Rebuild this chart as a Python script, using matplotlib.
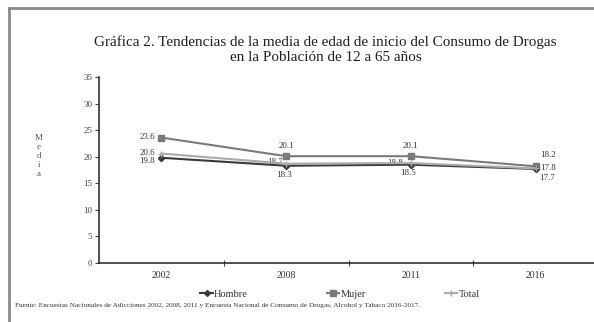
import matplotlib
matplotlib.use("Agg")
import matplotlib.pyplot as plt
from matplotlib.lines import Line2D

years = ["2002", "2008", "2011", "2016"]
hombre = [19.8, 18.3, 18.5, 17.7]
mujer = [23.6, 20.1, 20.1, 18.2]
total = [20.6, 18.7, 18.8, 17.8]
yticks = [0, 5, 10, 15, 20, 25, 30, 35]

plt.rcParams['font.family'] = ['Liberation Serif', 'DejaVu Serif']

W, H = 594, 322
fig = plt.figure(figsize=(W / 100, H / 100), dpi=100)
fig.patch.set_facecolor('white')

# outer frame (top and left edges visible)
fig.add_artist(Line2D([9 / W, 9 / W], [0, 1 - 8 / H], transform=fig.transFigure,
                      color='#8a8a8a', lw=2))
fig.add_artist(Line2D([9 / W, 1], [1 - 8 / H, 1 - 8 / H], transform=fig.transFigure,
                      color='#8a8a8a', lw=2))

ax_l, ax_r, ax_b, ax_t = 99, 598, 263, 77
ax = fig.add_axes([ax_l / W, 1 - ax_b / H, (ax_r - ax_l) / W, (ax_b - ax_t) / H])
ax.set_xlim(-0.5, len(years) - 0.5)
ax.set_ylim(0, 35)

x = list(range(len(years)))
c_h, c_m, c_t = '#3a3a3a', '#7a7a7a', '#ababab'
ax.plot(x, hombre, color=c_h, lw=1.5, marker='D', ms=3.2, zorder=4)
ax.plot(x, mujer, color=c_m, lw=1.5, marker='s', ms=4.5, zorder=3)
ax.plot(x, total, color=c_t, lw=1.5, marker='+', ms=4, mew=1, zorder=5)

lab_kw = dict(textcoords='offset pixels', fontsize=6.5, color='#333333',
              ha='center', va='center')
offs_m = [(-14, 1), (0, 10), (0, 10), (12, 11)]
offs_t = [(-14, 1), (-11, 2), (-16, 0), (12, 0)]
offs_h = [(-14, -3), (-2, -9), (-3, -8), (11, -9)]
for i in x:
    ax.annotate(f"{mujer[i]:.1f}", (i, mujer[i]), xytext=offs_m[i], **lab_kw)
    ax.annotate(f"{total[i]:.1f}", (i, total[i]), xytext=offs_t[i], **lab_kw)
    ax.annotate(f"{hombre[i]:.1f}", (i, hombre[i]), xytext=offs_h[i], **lab_kw)

for s in ['top', 'right']:
    ax.spines[s].set_visible(False)
ax.spines['left'].set_color('#222222')
ax.spines['bottom'].set_color('#222222')
ax.spines['left'].set_linewidth(1.1)
ax.spines['bottom'].set_linewidth(1.1)

ax.set_yticks(yticks)
ax.set_yticklabels([str(v) for v in yticks], fontsize=6.5, color='#444444')
ax.tick_params(axis='y', direction='out', length=3, width=0.8, pad=2, colors='#444444')

ax.set_xticks(x)
ax.set_xticklabels(years, fontsize=7, color='#333333')
ax.tick_params(axis='x', which='major', length=0, pad=6)
ax.set_xticks([i + 0.5 for i in x[:-1]], minor=True)
ax.tick_params(axis='x', which='minor', direction='inout', length=5, width=0.8,
               colors='#444444')

# y label stacked letters
fig.text(39 / W, 1 - 156 / H, "M\ne\nd\ni\na", ha='center', va='center',
         fontsize=6.5, color='#555555', linespacing=1.2)

# title
fig.text(325 / W, 1 - 42 / H, "Gráfica 2. Tendencias de la media de edad de inicio del Consumo de Drogas",
         ha='center', va='center', fontsize=10.9, color='#1e1e1e')
fig.text(326 / W, 1 - 57.5 / H, "en la Población de 12 a 65 años",
         ha='center', va='center', fontsize=10.9, color='#1e1e1e')

handles = [
    Line2D([], [], color=c_h, lw=1.5, marker='D', ms=3),
    Line2D([], [], color=c_m, lw=1.5, marker='s', ms=4),
    Line2D([], [], color=c_t, lw=1.5, marker='+', ms=4),
]
fig.legend(handles, ["Hombre", "Mujer", "Total"], loc='center',
           bbox_to_anchor=(340 / W, 1 - 294 / H), ncol=3, frameon=False,
           fontsize=7.5, handlelength=1.2, handletextpad=0.1, columnspacing=7.6,
           borderpad=0, labelcolor='#333333')

fig.text(15 / W, 1 - 306 / H,
         "Fuente: Encuestas Nacionales de Adicciones 2002, 2008, 2011 y Encuesta Nacional de Consumo de Drogas, Alcohol y Tabaco 2016-2017.",
         ha='left', va='center', fontsize=5.2, color='#333333')

fig.savefig("out.png", dpi=100, facecolor='white')
